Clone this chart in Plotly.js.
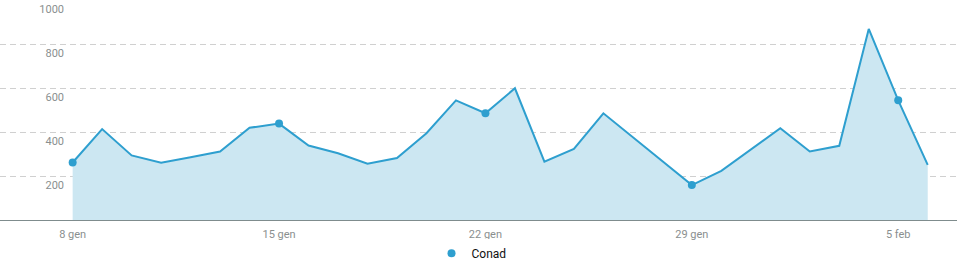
<!DOCTYPE html>
<html>
<head>
<meta charset="utf-8">
<script src="https://cdn.plot.ly/plotly-3.0.1.min.js"></script>
<style>html,body{margin:0;padding:0;background:#fff;}#chart{width:962px;height:260px;}</style>
</head>
<body>
<div id="chart"></div>
<script>
const dates = [
  '2024-01-08','2024-01-09','2024-01-10','2024-01-11','2024-01-12','2024-01-13','2024-01-14',
  '2024-01-15','2024-01-16','2024-01-17','2024-01-18','2024-01-19','2024-01-20','2024-01-21',
  '2024-01-22','2024-01-23','2024-01-24','2024-01-25','2024-01-26','2024-01-27','2024-01-28',
  '2024-01-29','2024-01-30','2024-01-31','2024-02-01','2024-02-02','2024-02-03','2024-02-04',
  '2024-02-05','2024-02-06'
];
const conad = [
  262, 414, 294, 261, 286, 312, 420,
  439, 339, 304, 256, 282, 395, 545,
  486, 600, 266, 324, 486, 376, 268,
  159, 224, 321, 418, 312, 338, 870,
  545, 251
];
const tickDates = ['2024-01-08','2024-01-15','2024-01-22','2024-01-29','2024-02-05'];
const tickLabels = ['8 gen','15 gen','22 gen','29 gen','5 feb'];
const yTicks = [200, 400, 600, 800, 1000];
const seriesName = 'Conad';

const lineColor = '#2e9fcf';
const markDates = dates.filter((d, i) => i % 7 === 0);
const markVals = conad.filter((v, i) => i % 7 === 0);

const traces = [
  {
    x: dates, y: conad, type: 'scatter', mode: 'lines',
    line: {color: lineColor, width: 2},
    fill: 'tozeroy', fillcolor: '#cce7f2',
    showlegend: false, hoverinfo: 'skip'
  },
  {
    x: markDates, y: markVals, type: 'scatter', mode: 'markers',
    marker: {color: lineColor, size: 8},
    name: seriesName, showlegend: true
  }
];

const tickFont = {family: 'Roboto, sans-serif', size: 11, color: '#8a8f8f'};

const layout = {
  width: 962, height: 260,
  margin: {l: 0, r: 5, t: 0, b: 40, autoexpand: false},
  paper_bgcolor: '#fff', plot_bgcolor: '#fff',
  xaxis: {
    type: 'date',
    range: ['2024-01-05 12:52', '2024-02-06 23:50'],
    tickvals: tickDates, ticktext: tickLabels,
    showgrid: false, zeroline: false,
    showline: true, linecolor: '#7f8c8d', linewidth: 1,
    ticks: '', tickfont: tickFont, ticklabelstandoff: 4,
    anchor: 'y', fixedrange: true, automargin: false
  },
  yaxis: {
    range: [0, 1002],
    tickvals: yTicks,
    showgrid: true, gridcolor: '#d0d0d0', griddash: '6px,4px', gridwidth: 1,
    zeroline: false, showline: false, ticks: '',
    anchor: 'free', position: 0.0669,
    ticklabelshift: 9,
    tickfont: tickFont, fixedrange: true, automargin: false
  },
  legend: {
    orientation: 'h', x: 0.4927, xanchor: 'center',
    yref: 'container', y: 0.026, yanchor: 'middle',
    font: {family: 'Roboto, sans-serif', size: 12, color: '#111'}
  },
  showlegend: true
};

Plotly.newPlot('chart', traces, layout, {displayModeBar: false, staticPlot: true});
</script>
</body>
</html>
